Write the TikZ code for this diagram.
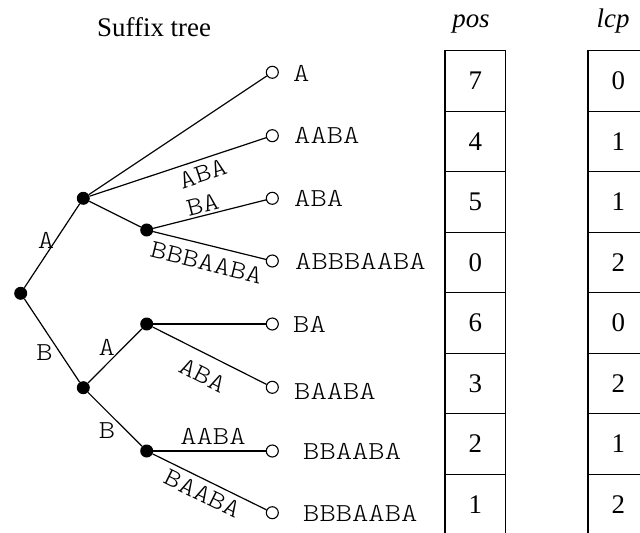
\documentclass[tikz,border=0pt]{standalone}
\usepackage{fontspec}
\setmainfont{Liberation Serif}
\newfontfamily\mono{lmmonolt10-regular}[Extension=.otf, FakeStretch=1.2]
\begin{document}
\begin{tikzpicture}[x=1bp,y=-1bp,
 inode/.style={circle, fill=black, inner sep=0pt, minimum size=13bp},
 lnode/.style={circle, draw, fill=white, line width=1.1bp, inner sep=0pt, minimum size=12bp},
 tedge/.style={line width=1.2bp},
 elab/.style={font=\mono\fontsize{26}{28}\selectfont, inner sep=0pt},
 llab/.style={font=\mono\fontsize{26}{28}\selectfont, anchor=west, inner sep=0pt},
 cell/.style={draw, line width=1.3bp, minimum width=60.7bp, minimum height=60.5bp, inner sep=0pt, font=\fontsize{27}{30}\selectfont},
 hdr/.style={font=\itshape\fontsize{27}{30}\selectfont, anchor=base, inner sep=0pt},
]
\useasboundingbox (0,0) rectangle (640,533);
\clip (0,0) rectangle (640,533);

% title and headers
\node[font=\fontsize{27}{30}\selectfont, anchor=base west, inner sep=0pt] (title) at (97,36.7) {Suffix tree};
\node[hdr] (hp) at (471,28) {pos};
\node[hdr] (hl) at (613,28) {lcp};

% inner nodes
\node[inode] (r) at (20.7,293.3) {};
\node[inode] (a) at (83.3,198.3) {};
\node[inode] (ab) at (146.7,230) {};
\node[inode] (b) at (83.3,387.7) {};
\node[inode] (ba) at (146.7,324) {};
\node[inode] (bb) at (146.7,451) {};
% leaves
\node[lnode] (l1) at (272.3,72.3) {};
\node[lnode] (l2) at (272.3,135.7) {};
\node[lnode] (l3) at (272.3,198.3) {};
\node[lnode] (l4) at (272.3,261) {};
\node[lnode] (l5) at (272.3,324) {};
\node[lnode] (l6) at (272.3,387.3) {};
\node[lnode] (l7) at (272.3,451) {};
\node[lnode] (l8) at (272.3,512.7) {};

% edges
\draw[tedge] (r) -- node[elab, pos=0.57, left=1bp] (eA) {A} (a);
\draw[tedge] (a) -- (l1);
\draw[tedge] (a) -- node[elab, sloped, pos=0.616, below=5.6bp] (e1) {ABA} (l2);
\draw[tedge] (a) -- (ab);
\draw[tedge] (ab) -- node[elab, sloped, pos=0.463, above=2.5bp] (e2) {BA} (l3);
\draw[tedge] (ab) -- node[elab, sloped, pos=0.51, below=8.6bp] (e3) {BBBAABA} (l4);
\draw[tedge] (r) -- node[elab, pos=0.65, left=7bp] (e4) {B} (b);
\draw[tedge] (b) -- node[elab, pos=0.66, left=8bp] (e5) {A} (ba);
\draw[tedge] (b) -- node[elab, pos=0.70, left=10bp] (e6) {B} (bb);
\draw[tedge] (ba) -- (l5);
\draw[tedge] (ba) -- node[elab, sloped, pos=0.52, below=12bp] (e7) {ABA} (l6);
\draw[tedge] (bb) -- node[elab, pos=0.53, above=6bp] (e8) {AABA} (l7);
\draw[tedge] (bb) -- node[elab, sloped, pos=0.49, below=5bp] (e9) {BAABA} (l8);

% leaf labels
\node[llab] (t1) at (293,73) {A};
\node[llab] (t2) at (294,135.7) {AABA};
\node[llab] (t3) at (294,198.3) {ABA};
\node[llab] (t4) at (295,261) {ABBBAABA};
\node[llab] (t5) at (293,324) {BA};
\node[llab] (t6) at (294,391) {BAABA};
\node[llab] (t7) at (303,451) {BBAABA};
\node[llab] (t8) at (303,513) {BBBAABA};

% tables
\foreach \v [count=\i] in {7,4,5,0,6,3,2,1}
  \node[cell] (p\i) at (475.35, 20.45+60.5*\i) {\v};
\foreach \v [count=\i] in {0,1,1,2,0,2,1,2}
  \node[cell] (c\i) at (618.35, 20.45+60.5*\i) {\v};
\end{tikzpicture}
\end{document}
